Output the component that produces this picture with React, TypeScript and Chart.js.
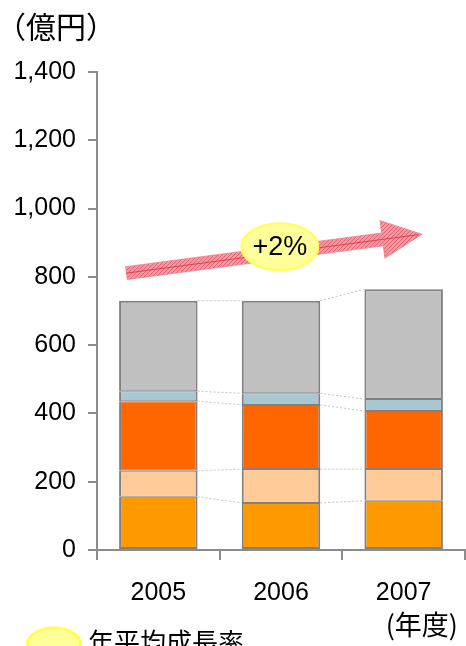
import React, { useEffect, useRef } from 'react';
import { Chart, registerables } from 'chart.js';

Chart.register(...registerables);

// Fiscal years on the category axis
const years = ['2005', '2006', '2007'];

// Stacked segments (億円), bottom to top
const seg1 = [156, 138, 144];
const seg2 = [76, 99, 93];
const seg3 = [204, 188, 170];
const seg4 = [29, 34, 35];
const seg5 = [265, 271, 322];

// Value axis range
const yMin = 0;
const yMax = 1400;
const yStep = 200;

// Growth annotation: arrow ends and badge anchor, in (category index, value)
const growthLabel = '+2%';
const arrowTail = [-0.26, 811];
const arrowTip = [2.15, 925];
const badgeAt = [0.99, 888];

const unitLabel = '（億円）';
const yearLabel = '(年度)';
const legendLabel = '年平均成長率';

const NUM_FONT = '"Liberation Sans", Arial, sans-serif';
const JP_FONT = '"Noto Sans CJK JP", "Noto Sans", sans-serif';
const AXIS_GRAY = '#8c8c8c';

function makeHatch(): CanvasPattern | string {
  const c = document.createElement('canvas');
  c.width = 4;
  c.height = 4;
  const g = c.getContext('2d');
  if (!g) return '#ec8e97';
  g.fillStyle = '#f09ca5';
  g.fillRect(0, 0, 4, 4);
  g.fillStyle = '#e2606e';
  g.fillRect(0, 0, 1, 1);
  g.fillRect(2, 2, 1, 1);
  g.fillRect(1, 3, 1, 1);
  g.fillRect(3, 1, 1, 1);
  const p = g.createPattern(c, 'repeat');
  return p || '#ec8e97';
}

const overlay = {
  id: 'overlay',
  afterDatasetsDraw(chart: any) {
    const { ctx, scales } = chart;
    const xs = scales.x;
    const ys = scales.y;

    // dotted connectors between neighbouring bars at every segment top
    ctx.save();
    ctx.strokeStyle = '#c4c4c4';
    ctx.lineWidth = 1;
    ctx.setLineDash([2, 2]);
    chart.data.datasets.forEach((_: any, d: number) => {
      const els = chart.getDatasetMeta(d).data;
      for (let i = 0; i < els.length - 1; i++) {
        const a = els[i];
        const b = els[i + 1];
        ctx.beginPath();
        ctx.moveTo(a.x + a.width / 2, a.y);
        ctx.lineTo(b.x - b.width / 2, b.y);
        ctx.stroke();
      }
    });
    ctx.restore();

    // growth arrow
    const tx = xs.getPixelForValue(arrowTail[0]);
    const ty = ys.getPixelForValue(arrowTail[1]);
    const hx = xs.getPixelForValue(arrowTip[0]);
    const hy = ys.getPixelForValue(arrowTip[1]);
    const len = Math.hypot(hx - tx, hy - ty);
    const dx = (hx - tx) / len;
    const dy = (hy - ty) / len;
    const nx = -dy;
    const ny = dx;
    const shaft = 6.5;
    const head = 19;
    const headLen = 40;
    const bx = hx - dx * headLen;
    const by = hy - dy * headLen;
    ctx.save();
    ctx.beginPath();
    ctx.moveTo(tx + nx * shaft, ty + ny * shaft);
    ctx.lineTo(bx + nx * shaft, by + ny * shaft);
    ctx.lineTo(bx + nx * head, by + ny * head);
    ctx.lineTo(hx, hy);
    ctx.lineTo(bx - nx * head, by - ny * head);
    ctx.lineTo(bx - nx * shaft, by - ny * shaft);
    ctx.lineTo(tx - nx * shaft, ty - ny * shaft);
    ctx.closePath();
    ctx.fillStyle = makeHatch();
    ctx.fill();
    ctx.strokeStyle = 'rgba(230,110,120,0.6)';
    ctx.lineWidth = 1;
    ctx.stroke();
    ctx.beginPath();
    ctx.moveTo(tx, ty);
    ctx.lineTo(hx - dx * 4, hy - dy * 4);
    ctx.strokeStyle = 'rgba(214,40,56,0.75)';
    ctx.stroke();
    ctx.restore();

    // growth badge
    const cx = xs.getPixelForValue(badgeAt[0]);
    const cy = ys.getPixelForValue(badgeAt[1]);
    ctx.save();
    ctx.beginPath();
    ctx.ellipse(cx, cy, 38.5, 23.5, 0, 0, Math.PI * 2);
    ctx.fillStyle = '#ffff99';
    ctx.fill();
    ctx.lineWidth = 2;
    ctx.strokeStyle = '#ffff5a';
    ctx.stroke();
    ctx.fillStyle = '#000';
    ctx.font = `27px ${NUM_FONT}`;
    ctx.textAlign = 'center';
    ctx.textBaseline = 'middle';
    ctx.fillText(growthLabel, cx, cy + 1);
    ctx.restore();
  },
  afterDraw(chart: any) {
    const { ctx, chartArea } = chart;
    ctx.save();
    ctx.fillStyle = '#000';

    // unit caption
    ctx.font = `30px ${JP_FONT}`;
    ctx.textAlign = 'left';
    ctx.textBaseline = 'middle';
    ctx.fillText(unitLabel, -4, 27);

    // year caption
    ctx.font = `27px ${JP_FONT}`;
    ctx.textAlign = 'right';
    ctx.fillText(yearLabel, chartArea.right - 7, 625);

    // legend for the badge
    ctx.beginPath();
    ctx.ellipse(54, 644, 26.5, 16, 0, 0, Math.PI * 2);
    ctx.fillStyle = '#ffff99';
    ctx.fill();
    ctx.lineWidth = 3;
    ctx.strokeStyle = '#ffff50';
    ctx.stroke();
    ctx.fillStyle = '#000';
    ctx.font = `26px ${JP_FONT}`;
    ctx.textAlign = 'left';
    ctx.fillText(legendLabel, 88, 642);
    ctx.restore();
  },
};

export default function App() {
  const ref = useRef<HTMLCanvasElement | null>(null);

  useEffect(() => {
    const canvas = ref.current;
    if (!canvas) return;
    const mk = (label: string, data: number[], color: string, top = 1, bottom = 1) => ({
      label,
      data,
      backgroundColor: color,
      borderColor: '#808080',
      borderWidth: { top, bottom, left: 2, right: 2 },
      borderSkipped: false as const,
    });
    const chart = new Chart(canvas, {
      type: 'bar',
      data: {
        labels: years,
        datasets: [
          mk('seg1', seg1, '#ff9900', 1, 2),
          mk('seg2', seg2, '#ffcc99'),
          mk('seg3', seg3, '#ff6600'),
          mk('seg4', seg4, '#a9c7d1'),
          mk('seg5', seg5, '#c0c0c0', 2, 1),
        ],
      },
      options: {
        responsive: false,
        animation: false,
        devicePixelRatio: 1,
        layout: { padding: { top: 72, left: 0, right: 1, bottom: 0 } },
        plugins: { legend: { display: false }, tooltip: { enabled: false } },
        datasets: { bar: { categoryPercentage: 1, barPercentage: 0.64 } },
        scales: {
          x: {
            stacked: true,
            grid: {
              drawOnChartArea: false,
              drawTicks: true,
              tickLength: 10,
              color: AXIS_GRAY,
              lineWidth: 2,
              offset: true,
            },
            border: { color: AXIS_GRAY, width: 2 },
            ticks: {
              padding: 18,
              color: '#000',
              font: { family: NUM_FONT, size: 25 },
            },
            afterFit: (s: any) => {
              s.height = 96;
            },
          },
          y: {
            stacked: true,
            min: yMin,
            max: yMax,
            ticks: {
              stepSize: yStep,
              padding: 12,
              color: '#000',
              font: { family: NUM_FONT, size: 25 },
            },
            grid: {
              drawOnChartArea: false,
              drawTicks: true,
              tickLength: 9,
              color: AXIS_GRAY,
              lineWidth: 2,
            },
            border: { color: AXIS_GRAY, width: 2 },
            afterFit: (s: any) => {
              s.width = 97;
            },
          },
        },
      },
      plugins: [overlay],
    });
    return () => chart.destroy();
  }, []);

  return (
    <div style={{ position: 'absolute', left: 0, top: 0, width: 466, height: 646, background: '#fff' }}>
      <canvas ref={ref} width={466} height={646} style={{ display: 'block', width: 466, height: 646 }} />
    </div>
  );
}
